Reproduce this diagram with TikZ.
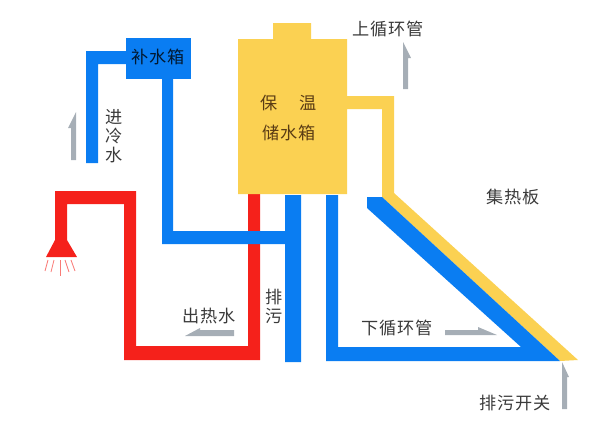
\documentclass[tikz,border=0pt]{standalone}
\usepackage{fontspec}
\setmainfont[LetterSpace=6]{Noto Sans CJK SC}
\definecolor{pipeblue}{HTML}{0A7DF2}
\definecolor{pipered}{HTML}{F5211B}
\definecolor{tankyellow}{HTML}{FBD152}
\definecolor{arrowgray}{HTML}{A6AEB6}
\definecolor{labelgray}{HTML}{3A3A3A}
\definecolor{tankbrown}{HTML}{5A3C14}
\tikzset{
  hotpipe/.style={fill=pipered},
  coldpipe/.style={fill=pipeblue},
  warmpipe/.style={fill=tankyellow},
  flowarrow/.style={fill=arrowgray},
  spray/.style={draw=pipered!60,line width=0.6pt},
  pipelabel/.style={text=labelgray,font=\fontsize{12.2}{13.5}\selectfont,inner sep=0pt,align=center},
  tanklabel/.style={pipelabel,text=tankbrown},
}
\begin{document}
\begin{tikzpicture}[x=0.025cm,y=-0.025cm]
    \useasboundingbox (0,0) rectangle (600,421);
    % hot water line and shower head
    \fill[hotpipe] (55,240)--(55,191)--(136,191)--(136,346)--(248,346)--(248,190)
      --(260,190)--(260,360)--(124,360)--(124,204)--(67,204)--(67,240)--(77,257)--(46,257)--cycle;
    \foreach \x/\y/\z in {48/45/271,54/51/272,60/60/276,65/69/272,71/75/271}{
        \draw[spray] (\x,260)--(\y,\z);
      }
    % storage tank and upper loop
    \fill[warmpipe] (238,39)--(273,39)--(273,23)--(311,23)--(311,39)--(347,39)--(347,96)--(394,96)
      --(394,193)--(578,360)--(560,361)--(382,197)--(382,109)--(347,109)--(347,194)--(238,194)--cycle;
    % cold water lines
    \fill[coldpipe] (126,38) rectangle (191,79);
    \fill[coldpipe] (126,51)--(86,51)--(86,163)--(98,163)--(98,64)--(126,64)--cycle;
    \fill[coldpipe] (162,79)--(173,79)--(173,231)--(285,231)--(285,195)--(301,195)--(301,362)
      --(285,362)--(285,244)--(162,244)--cycle;
    \fill[coldpipe] (326,195)--(338,195)--(338,347)--(521,347)--(367,208)--(367,197)--(382,197)
      --(560,361)--(326,361)--cycle;
    % flow arrows
    \fill[flowarrow] (71,160)--(71,128)--(68,128)--(76,112)--(76,160)--cycle;
    \fill[flowarrow] (403,89)--(403,42)--(411,58)--(408,58)--(408,89)--cycle;
    \fill[flowarrow] (234,330)--(200,330)--(200,328)--(185,336)--(234,336)--cycle;
    \fill[flowarrow] (445,330)--(478,330)--(478,327)--(497,335)--(445,335)--cycle;
    \fill[flowarrow] (562,409)--(562,362)--(569,377)--(567,377)--(567,409)--cycle;
    % labels
    \node[pipelabel,text=black!80!pipeblue] (refill) at (158,57) {补水箱};
    \node[pipelabel] (coldin) at (114,136) {进\\冷\\水};
    \node[tanklabel] (tanka) at (269,103) {保};
    \node[tanklabel] (tankb) at (308,103) {温};
    \node[tanklabel] (tankc) at (289,133) {储水箱};
    \node[pipelabel] (upper) at (388,29) {上循环管};
    \node[pipelabel] (panel) at (513,197) {集热板};
    \node[pipelabel] (lower) at (397,328) {下循环管};
    \node[pipelabel] (hotout) at (209,316) {出热水};
    \node[pipelabel] (drain) at (274,306) {排\\污};
    \node[pipelabel] (valve) at (515,403) {排污开关};
  \end{tikzpicture}
\end{document}
